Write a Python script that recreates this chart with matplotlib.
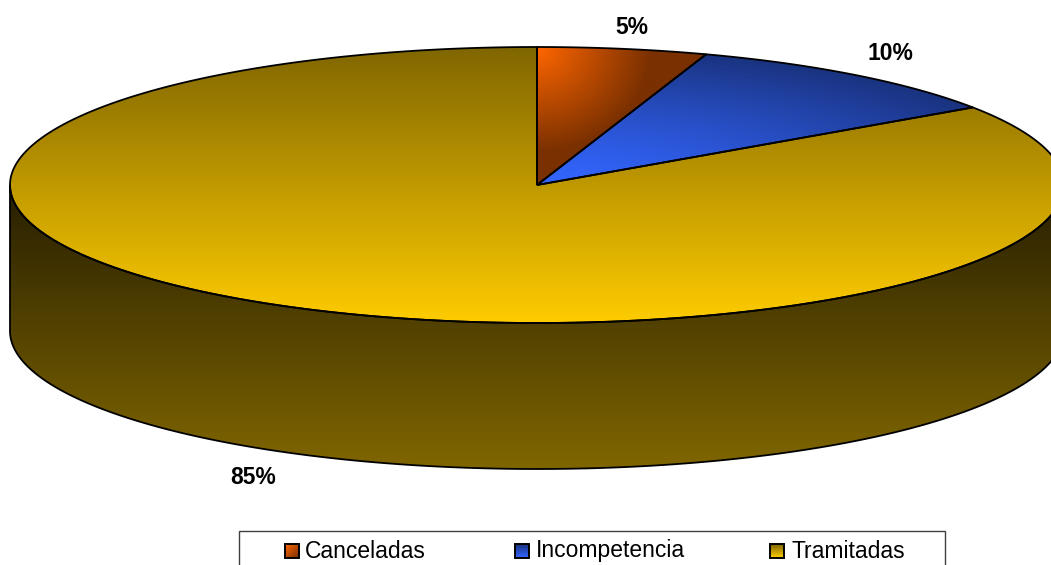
import numpy as np
import matplotlib
matplotlib.use("Agg")
import matplotlib.pyplot as plt
from matplotlib.patches import Polygon, Rectangle
from matplotlib.colors import LinearSegmentedColormap

plt.rcParams['font.family'] = ['Liberation Sans', 'DejaVu Sans']

categories = ['Canceladas', 'Incompetencia', 'Tramitadas']
values = [5.2, 10.3, 84.5]
pct_labels = ['5%', '10%', '85%']
label_pos = [(632, 27), (890, 53), (253, 478)]

# pie geometry in image pixels
CX, CY = 537, 185
RX, RY = 527, 138
DEPTH = 146
W, H = 1051, 565

cm_orange = LinearSegmentedColormap.from_list('o', ['#ff6600', '#7a3000'])
cm_blue = LinearSegmentedColormap.from_list('b', ['#3366ff', '#1a3380'])
cm_gold = LinearSegmentedColormap.from_list('g', ['#806600', '#ffcc00'])
cm_side = LinearSegmentedColormap.from_list('s', ['#261e00', '#806600'])


def rim(a):
    # a in degrees, clockwise from the top
    r = np.radians(a)
    return CX + RX * np.sin(r), CY - RY * np.cos(r)


def grad_image(ax, fn, cmap, clip, box):
    x0, x1, y0, y1 = box
    xx, yy = np.meshgrid(np.linspace(x0, x1, int(x1 - x0) + 1),
                         np.linspace(y0, y1, int(y1 - y0) + 1))
    t = np.clip(fn(xx, yy), 0, 1)
    im = ax.imshow(t, cmap=cmap, vmin=0, vmax=1, extent=(x0, x1, y1, y0),
                   origin='upper', aspect='auto', interpolation='bilinear', zorder=2)
    im.set_clip_path(clip)


def t_orange(x, y):
    return np.sqrt(((x - CX) / 115.0) ** 2 + ((y - 47) / 105.0) ** 2)


def t_blue(x, y):
    return np.sqrt(((x - CX) / RX) ** 2 + ((y - CY) / RY) ** 2) ** 1.3


def t_gold(x, y):
    return (y - 47) / 276.0


def t_side(x, y):
    return (y - 185) / 284.0


fig = plt.figure(figsize=(W / 100, H / 100), dpi=100)
ax = fig.add_axes([0, 0, 1, 1])

# side wall, only the front half shows
a = np.linspace(90, 270, 400)
xs, ys = rim(a)
side_pts = np.concatenate([np.column_stack([xs, ys]),
                           np.column_stack([xs[::-1], ys[::-1] + DEPTH])])
side = Polygon(side_pts, closed=True, fc='none', ec='black', lw=1.3, zorder=3)
ax.add_patch(side)
grad_image(ax, t_side, cm_side, side, (0, W, 185, 475))

# top face, one wedge per category
fills = [(t_orange, cm_orange), (t_blue, cm_blue), (t_gold, cm_gold)]
edges = np.concatenate([[0], np.cumsum(values)]) / np.sum(values) * 360
for i in range(len(values)):
    a = np.linspace(edges[i], edges[i + 1], 400)
    xs, ys = rim(a)
    pts = np.vstack([[CX, CY], np.column_stack([xs, ys])])
    wedge = Polygon(pts, closed=True, fc='none', ec='black', lw=1.3, zorder=4)
    ax.add_patch(wedge)
    grad_image(ax, fills[i][0], fills[i][1], wedge, (0, W, 40, 330))

for txt, (lx, ly) in zip(pct_labels, label_pos):
    ax.text(lx, ly, txt, fontsize=16.5, fontweight='bold', ha='center', va='center',
            color='black', zorder=6)

# legend, cut by the bottom of the image
ax.add_patch(Rectangle((239, 530.5), 706, 50, fc='white', ec='#404040', lw=1, zorder=5))
swatch_x = [285, 515, 770]
text_x = [305, 536, 791]
swatch_cm = [cm_orange, cm_blue, cm_gold]
ramp = np.linspace(0, 1, 16)
swatch_grad = [np.add.outer(ramp, ramp) / 2,
               ramp[::-1].reshape(-1, 1),
               ramp.reshape(-1, 1)]
for i, name in enumerate(categories):
    sx = swatch_x[i]
    ax.imshow(swatch_grad[i], cmap=swatch_cm[i], vmin=0, vmax=1,
              extent=(sx, sx + 14, 558, 544), aspect='auto', zorder=6)
    ax.add_patch(Rectangle((sx, 544), 14, 14, fc='none', ec='black', lw=1.4, zorder=7))
    ax.text(text_x[i], 551, name, fontsize=16.5, ha='left', va='center', color='black', zorder=7)

ax.set_xlim(0, W)
ax.set_ylim(H, 0)
ax.axis('off')
fig.savefig('out.png', dpi=100, facecolor='white')
plt.close()
